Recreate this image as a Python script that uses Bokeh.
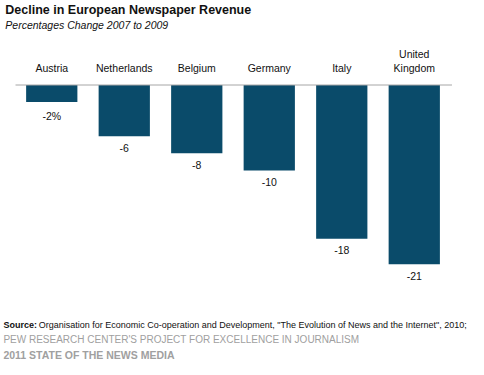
from bokeh.plotting import figure
from bokeh.models import ColumnDataSource, Range1d, Label
from bokeh.core.properties import value
from bokeh.embed import file_html
from bokeh.resources import INLINE

countries = ["Austria", "Netherlands", "Belgium", "Germany", "Italy", "United\nKingdom"]
changes = [-2, -6, -8, -10, -18, -21]
value_labels = ["-2%", "-6", "-8", "-10", "-18", "-21"]

title_text = "Decline in European Newspaper  Revenue"
subtitle_text = "Percentages Change 2007 to 2009"
source_bold = "Source:"
source_rest = "Organisation for Economic Co-operation and Development, \"The Evolution of News and the Internet\", 2010;"
footer1 = "PEW RESEARCH CENTER'S PROJECT FOR EXCELLENCE IN JOURNALISM"
footer2 = "2011 STATE OF THE NEWS MEDIA"

W, H = 468, 359
FONT_NAME = "Liberation Sans"
FONT = value(FONT_NAME)
BAR = "#0A4B6A"

n = len(countries)
src = ColumnDataSource(dict(
    x=list(range(n)), v=changes, zero=[0] * n, name=countries, lab=value_labels,
))

p = figure(width=W, height=H, output_backend="svg", toolbar_location=None,
           x_range=Range1d(-0.707, 5.748), y_range=Range1d(-32.14, 9.895),
           x_axis_location=None, y_axis_location=None,
           min_border=0, min_border_left=0, min_border_right=0,
           min_border_top=0, min_border_bottom=0)
p.grid.visible = False
p.outline_line_color = None
p.background_fill_color = "white"
p.border_fill_color = "white"

p.vbar(x="x", top="zero", bottom="v", width=0.707, source=src,
       fill_color=BAR, line_color=None)
p.segment(x0=[-0.5], y0=[0], x1=[n - 0.48], y1=[0], line_color="#A6A6A6", line_width=1)

p.text(x="x", y="zero", text="name", source=src, text_align="center",
       text_baseline="bottom", y_offset=-11, text_font=FONT,
       text_font_size="10.5px", text_color="#111111", text_line_height=1.2)
p.text(x="x", y="v", text="lab", source=src, text_align="center",
       text_baseline="top", y_offset=7.5, text_font=FONT,
       text_font_size="10.5px", text_color="#111111")

def lab(txt, x, y, size, style="normal", color="#111111"):
    p.add_layout(Label(text=txt, x=x, y=y, x_units="screen", y_units="screen",
                       text_font=FONT_NAME, text_font_size=size, text_font_style=style,
                       text_color=color, text_baseline="middle", text_align="left"))

lab(title_text, 4.8, H - 9.6, "12.5px", "bold")
lab(subtitle_text, 4.8, H - 24, "10.5px", "italic")
lab(source_bold, 2.9, H - 324.4, "9px", "bold")
lab(source_rest, 38.2, H - 324.4, "9px", "normal")
lab(footer1, 2.9, H - 338.8, "10px", "normal", "#A0A0A0")
lab(footer2, 2.9, H - 354, "10.5px", "bold", "#A0A0A0")

open("out.html", "w").write(file_html(p, INLINE))
